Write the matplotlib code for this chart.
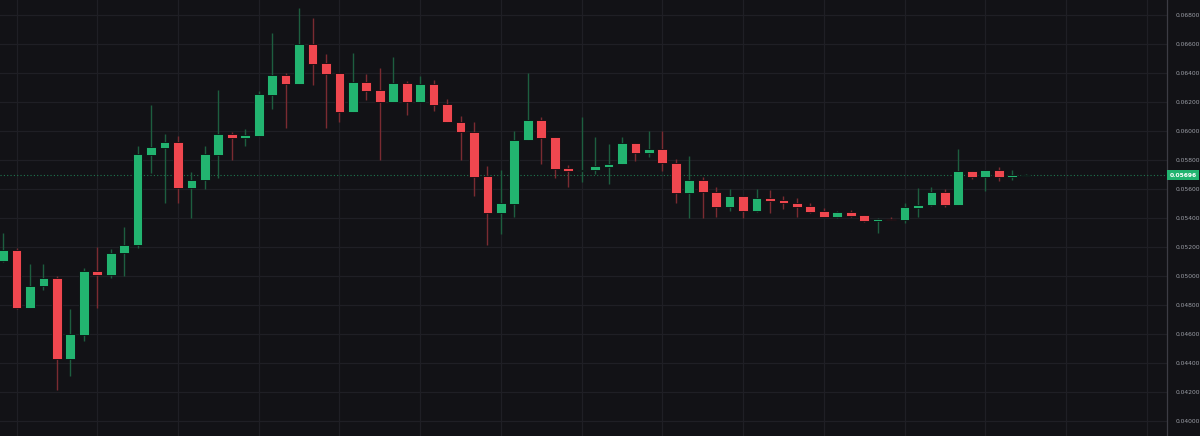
import matplotlib

matplotlib.use("Agg")

import matplotlib.pyplot as plt
from matplotlib.patches import Rectangle
import numpy as np

# OHLC values, one entry per candle
opens = [
    0.05103, 0.05179, 0.04781, 0.04929, 0.04984, 0.04430, 0.04595, 0.05035, 0.05007, 0.05157,
    0.05214, 0.05835, 0.05885, 0.05922, 0.05605, 0.05662, 0.05835, 0.05977, 0.05954, 0.05966,
    0.06246, 0.06384, 0.06326, 0.06600, 0.06467, 0.06398, 0.06131, 0.06340, 0.06283, 0.06202,
    0.06331, 0.06198, 0.06322, 0.06186, 0.06064, 0.05993, 0.05688, 0.05435, 0.05497, 0.05936,
    0.06076, 0.05957, 0.05745, 0.05724, 0.05729, 0.05754, 0.05770, 0.05917, 0.05848, 0.05878,
    0.05779, 0.05572, 0.05660, 0.05581, 0.05478, 0.05552, 0.05448, 0.05536, 0.05524, 0.05504,
    0.05483, 0.05448, 0.05407, 0.05441, 0.05419, 0.05377, 0.05393, 0.05386, 0.05471, 0.05488,
    0.05579, 0.05492, 0.05726, 0.05683, 0.05731, 0.05685, 0.05692,
]
highs = [
    0.05295, 0.05191, 0.05083, 0.05083, 0.04998, 0.04772, 0.05053, 0.05198, 0.05184, 0.05338,
    0.05899, 0.06179, 0.05979, 0.05968, 0.05715, 0.05899, 0.06283, 0.05995, 0.06014, 0.06278,
    0.06678, 0.06398, 0.06850, 0.06782, 0.06531, 0.06398, 0.06540, 0.06393, 0.06435, 0.06513,
    0.06345, 0.06379, 0.06352, 0.06221, 0.06101, 0.06062, 0.05759, 0.05729, 0.05998, 0.06402,
    0.06097, 0.05957, 0.05766, 0.06099, 0.05961, 0.05910, 0.05959, 0.05917, 0.06000, 0.06000,
    0.05807, 0.05826, 0.05683, 0.05616, 0.05600, 0.05552, 0.05600, 0.05591, 0.05552, 0.05536,
    0.05501, 0.05467, 0.05450, 0.05453, 0.05423, 0.05400, 0.05407, 0.05501, 0.05605, 0.05616,
    0.05598, 0.05877, 0.05726, 0.05731, 0.05750, 0.05731, 0.05703,
]
lows = [
    0.05097, 0.04772, 0.04781, 0.04901, 0.04214, 0.04312, 0.04552, 0.04777, 0.04986, 0.05000,
    0.05190, 0.05712, 0.05501, 0.05501, 0.05402, 0.05598, 0.05678, 0.05800, 0.05899, 0.05966,
    0.06152, 0.06021, 0.06326, 0.06317, 0.06021, 0.06064, 0.06131, 0.06214, 0.05800, 0.06202,
    0.06110, 0.06198, 0.06136, 0.06060, 0.05800, 0.05552, 0.05214, 0.05290, 0.05405, 0.05936,
    0.05772, 0.05674, 0.05612, 0.05650, 0.05701, 0.05635, 0.05770, 0.05791, 0.05821, 0.05724,
    0.05501, 0.05397, 0.05397, 0.05404, 0.05450, 0.05402, 0.05444, 0.05435, 0.05460, 0.05407,
    0.05435, 0.05407, 0.05402, 0.05407, 0.05372, 0.05297, 0.05386, 0.05366, 0.05407, 0.05483,
    0.05476, 0.05492, 0.05671, 0.05588, 0.05657, 0.05660, 0.05692,
]
closes = [
    0.05179, 0.04781, 0.04931, 0.04984, 0.04430, 0.04598, 0.05035, 0.05009, 0.05159, 0.05216,
    0.05839, 0.05888, 0.05922, 0.05605, 0.05662, 0.05839, 0.05977, 0.05954, 0.05972, 0.06253,
    0.06386, 0.06326, 0.06600, 0.06460, 0.06395, 0.06131, 0.06340, 0.06278, 0.06202, 0.06331,
    0.06198, 0.06322, 0.06181, 0.06060, 0.05991, 0.05685, 0.05435, 0.05501, 0.05938, 0.06076,
    0.05954, 0.05740, 0.05724, 0.05731, 0.05757, 0.05775, 0.05917, 0.05848, 0.05878, 0.05777,
    0.05572, 0.05660, 0.05577, 0.05478, 0.05552, 0.05448, 0.05536, 0.05517, 0.05501, 0.05478,
    0.05444, 0.05407, 0.05441, 0.05416, 0.05377, 0.05393, 0.05386, 0.05474, 0.05490, 0.05579,
    0.05492, 0.05726, 0.05683, 0.05731, 0.05683, 0.05695, 0.05696,
]

last_price = 0.05696
price_ticks = [0.040, 0.042, 0.044, 0.046, 0.048, 0.050, 0.052, 0.054,
               0.056, 0.058, 0.060, 0.062, 0.064, 0.066, 0.068]

BG = "#121216"
GRID = "#1f1f25"
UP = "#22b470"
DOWN = "#f0474f"
UP_WICK = "#1d5e3f"
DOWN_WICK = "#7a2b31"
TEXT = "#9c9fa7"

fig = plt.figure(figsize=(12, 4.36), dpi=100, facecolor=BG)
ax = fig.add_axes([0, 0, 1167 / 1200, 1])
ax.set_facecolor(BG)

body_w = 0.72
for i, (o, h, l, c) in enumerate(zip(opens, highs, lows, closes)):
    up = c >= o
    ax.vlines(i, l, h, color=UP_WICK if up else DOWN_WICK, linewidth=1.0, zorder=2)
    lo, hi = min(o, c), max(o, c)
    ax.add_patch(Rectangle((i - body_w / 2, lo), body_w, max(hi - lo, 0.00003),
                           facecolor=UP if up else DOWN, edgecolor="#0c0c10",
                           linewidth=0.6, zorder=3))

ax.axhline(last_price, color="#1f7a50", linestyle=(0, (1, 2)), linewidth=0.8, zorder=1)

ax.set_xlim(-0.227, 86.51)
ax.set_ylim(0.038966, 0.069034)
ax.set_xticks(np.arange(1, 87, 6))
ax.set_yticks(price_ticks)
ax.grid(True, color=GRID, linewidth=0.9)
ax.set_axisbelow(True)
ax.tick_params(axis="x", length=0, labelbottom=False)
ax.yaxis.tick_right()
ax.tick_params(axis="y", length=0, pad=6, labelsize=4.3, labelcolor=TEXT)
ax.set_yticklabels([f"{t:.5f}" for t in price_ticks])
for side in ("top", "bottom", "left"):
    ax.spines[side].set_visible(False)
ax.spines["right"].set_color("#3c3c44")
ax.spines["right"].set_linewidth(0.9)

ax.annotate(f"{last_price:.5f}", xy=(1.0, last_price), xycoords=("axes fraction", "data"),
            xytext=(1.8, 0), textcoords="offset points", va="center", ha="left",
            fontsize=4.3, color="white", fontweight="bold",
            bbox=dict(boxstyle="square,pad=0.45", facecolor="#22b470", edgecolor="none"))

fig.savefig("out.png", dpi=100, facecolor=BG)
